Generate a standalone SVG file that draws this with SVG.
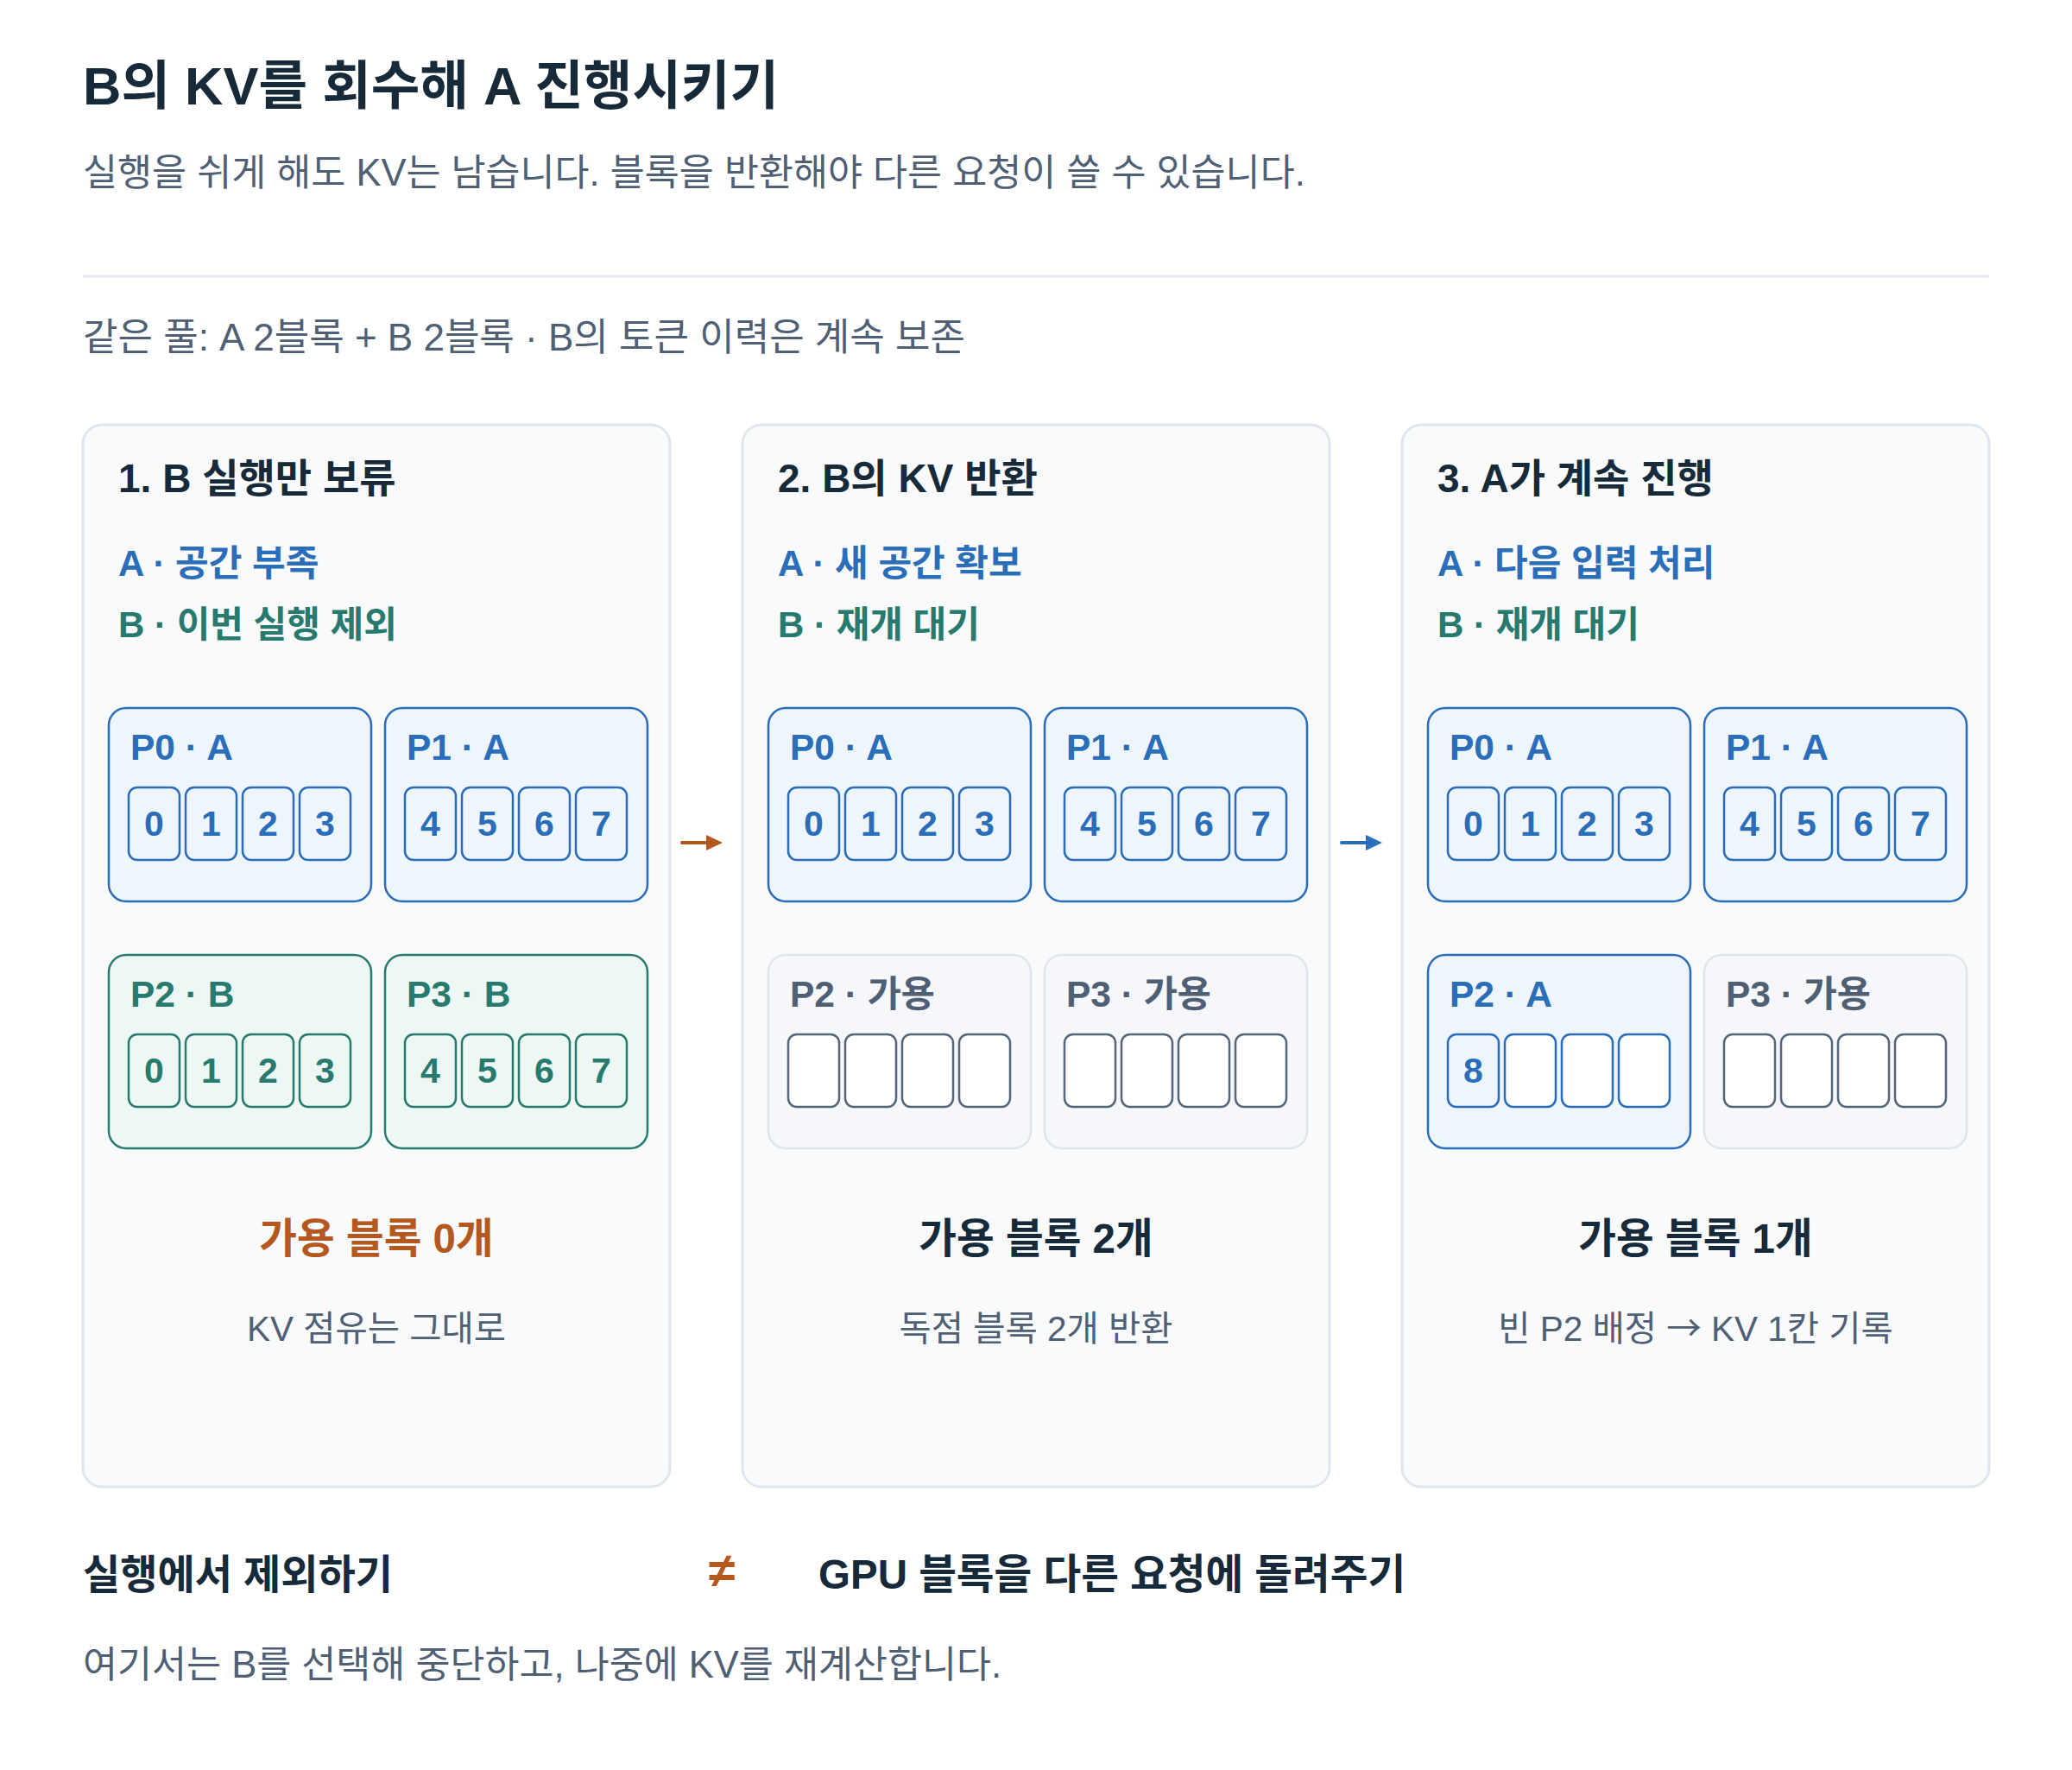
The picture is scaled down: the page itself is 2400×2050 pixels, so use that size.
<svg xmlns="http://www.w3.org/2000/svg" width="2400" height="2050" viewBox="0 0 2400 2050">
<defs>
<style>
text{font-family:"Liberation Sans","Noto Sans CJK KR",sans-serif}
.b{font-weight:700}
.navy{fill:#172a3a}
.gray{fill:#4f6075}
.blue{fill:#2a6db8}
.teal{fill:#277a6d}
.orange{fill:#b5581e}
.panel{fill:#f8fafc;stroke:#dfe6ee;stroke-width:3}
.blkA{fill:#eef5fd;stroke:#2a6db8;stroke-width:2.5}
.blkB{fill:#edf7f4;stroke:#277a6d;stroke-width:2.5}
.blkF{fill:#f5f7fa;stroke:#dfe5ec;stroke-width:2.5}
.cA{fill:#eef5fd;stroke:#2a6db8;stroke-width:2.5}
.cAe{fill:#ffffff;stroke:#2a6db8;stroke-width:2.5}
.cB{fill:#edf7f4;stroke:#277a6d;stroke-width:2.5}
.cF{fill:#ffffff;stroke:#55667a;stroke-width:2.5}
.pt{font-size:46px;font-weight:700;fill:#172a3a}
.st{font-size:42px;font-weight:700}
.bl{font-size:42.5px;font-weight:700}
.dg{font-size:41px;font-weight:700;text-anchor:middle}
.s1{font-size:47.5px;font-weight:700;text-anchor:middle}
.s2{font-size:40.5px;text-anchor:middle;fill:#4f6075}
.ar{font-family:"Noto Sans CJK KR",sans-serif}
</style>
<marker id="hO" markerUnits="userSpaceOnUse" markerWidth="20" markerHeight="18" refX="0" refY="9" orient="auto"><path d="M0,0 L19,9 L0,18 Z" fill="#b5581e"/></marker>
<marker id="hB" markerUnits="userSpaceOnUse" markerWidth="20" markerHeight="18" refX="0" refY="9" orient="auto"><path d="M0,0 L19,9 L0,18 Z" fill="#2a6db8"/></marker>
</defs>
<rect width="2400" height="2050" fill="#ffffff"/>

<g id="header">
<text x="96" y="121" class="b navy" font-size="61.5">B의 KV를 회수해 A 진행시키기</text>
<text x="96" y="215" class="gray" font-size="43.5">실행을 쉬게 해도 KV는 남습니다. 블록을 반환해야 다른 요청이 쓸 수 있습니다.</text>
<line x1="96" y1="320" x2="2304" y2="320" stroke="#e2e8f0" stroke-width="3"/>
<text x="96" y="406" class="gray" font-size="44">같은 풀: A 2블록 + B 2블록 · B의 토큰 이력은 계속 보존</text>
</g>

<g id="panel1">
<rect x="96" y="492" width="680" height="1230" rx="22" class="panel"/>
<text x="137" y="570" class="pt">1. B 실행만 보류</text>
<text x="137" y="667" class="st blue">A · 공간 부족</text>
<text x="137" y="738" class="st teal">B · 이번 실행 제외</text>
<g id="p1-P0">
<rect x="126" y="820" width="304" height="224" rx="20" class="blkA"/>
<text x="151" y="880" class="bl blue">P0 · A</text>
<rect x="149" y="912" width="59" height="84" rx="10" class="cA"/>
<rect x="215" y="912" width="59" height="84" rx="10" class="cA"/>
<rect x="281" y="912" width="59" height="84" rx="10" class="cA"/>
<rect x="347" y="912" width="59" height="84" rx="10" class="cA"/>
<text x="178.5" y="968" class="dg blue">0</text>
<text x="244.5" y="968" class="dg blue">1</text>
<text x="310.5" y="968" class="dg blue">2</text>
<text x="376.5" y="968" class="dg blue">3</text>
</g>
<g id="p1-P1">
<rect x="446" y="820" width="304" height="224" rx="20" class="blkA"/>
<text x="471" y="880" class="bl blue">P1 · A</text>
<rect x="469" y="912" width="59" height="84" rx="10" class="cA"/>
<rect x="535" y="912" width="59" height="84" rx="10" class="cA"/>
<rect x="601" y="912" width="59" height="84" rx="10" class="cA"/>
<rect x="667" y="912" width="59" height="84" rx="10" class="cA"/>
<text x="498.5" y="968" class="dg blue">4</text>
<text x="564.5" y="968" class="dg blue">5</text>
<text x="630.5" y="968" class="dg blue">6</text>
<text x="696.5" y="968" class="dg blue">7</text>
</g>
<g id="p1-P2">
<rect x="126" y="1106" width="304" height="224" rx="20" class="blkB"/>
<text x="151" y="1166" class="bl teal">P2 · B</text>
<rect x="149" y="1198" width="59" height="84" rx="10" class="cB"/>
<rect x="215" y="1198" width="59" height="84" rx="10" class="cB"/>
<rect x="281" y="1198" width="59" height="84" rx="10" class="cB"/>
<rect x="347" y="1198" width="59" height="84" rx="10" class="cB"/>
<text x="178.5" y="1254" class="dg teal">0</text>
<text x="244.5" y="1254" class="dg teal">1</text>
<text x="310.5" y="1254" class="dg teal">2</text>
<text x="376.5" y="1254" class="dg teal">3</text>
</g>
<g id="p1-P3">
<rect x="446" y="1106" width="304" height="224" rx="20" class="blkB"/>
<text x="471" y="1166" class="bl teal">P3 · B</text>
<rect x="469" y="1198" width="59" height="84" rx="10" class="cB"/>
<rect x="535" y="1198" width="59" height="84" rx="10" class="cB"/>
<rect x="601" y="1198" width="59" height="84" rx="10" class="cB"/>
<rect x="667" y="1198" width="59" height="84" rx="10" class="cB"/>
<text x="498.5" y="1254" class="dg teal">4</text>
<text x="564.5" y="1254" class="dg teal">5</text>
<text x="630.5" y="1254" class="dg teal">6</text>
<text x="696.5" y="1254" class="dg teal">7</text>
</g>
<text x="436" y="1451" class="s1 orange">가용 블록 0개</text>
<text x="436" y="1553" class="s2">KV 점유는 그대로</text>
</g>

<g id="panel2">
<rect x="860" y="492" width="680" height="1230" rx="22" class="panel"/>
<text x="901" y="570" class="pt">2. B의 KV 반환</text>
<text x="901" y="667" class="st blue">A · 새 공간 확보</text>
<text x="901" y="738" class="st teal">B · 재개 대기</text>
<g id="p2-P0">
<rect x="890" y="820" width="304" height="224" rx="20" class="blkA"/>
<text x="915" y="880" class="bl blue">P0 · A</text>
<rect x="913" y="912" width="59" height="84" rx="10" class="cA"/>
<rect x="979" y="912" width="59" height="84" rx="10" class="cA"/>
<rect x="1045" y="912" width="59" height="84" rx="10" class="cA"/>
<rect x="1111" y="912" width="59" height="84" rx="10" class="cA"/>
<text x="942.5" y="968" class="dg blue">0</text>
<text x="1008.5" y="968" class="dg blue">1</text>
<text x="1074.5" y="968" class="dg blue">2</text>
<text x="1140.5" y="968" class="dg blue">3</text>
</g>
<g id="p2-P1">
<rect x="1210" y="820" width="304" height="224" rx="20" class="blkA"/>
<text x="1235" y="880" class="bl blue">P1 · A</text>
<rect x="1233" y="912" width="59" height="84" rx="10" class="cA"/>
<rect x="1299" y="912" width="59" height="84" rx="10" class="cA"/>
<rect x="1365" y="912" width="59" height="84" rx="10" class="cA"/>
<rect x="1431" y="912" width="59" height="84" rx="10" class="cA"/>
<text x="1262.5" y="968" class="dg blue">4</text>
<text x="1328.5" y="968" class="dg blue">5</text>
<text x="1394.5" y="968" class="dg blue">6</text>
<text x="1460.5" y="968" class="dg blue">7</text>
</g>
<g id="p2-P2">
<rect x="890" y="1106" width="304" height="224" rx="20" class="blkF"/>
<text x="915" y="1166" class="bl gray">P2 · 가용</text>
<rect x="913" y="1198" width="59" height="84" rx="10" class="cF"/>
<rect x="979" y="1198" width="59" height="84" rx="10" class="cF"/>
<rect x="1045" y="1198" width="59" height="84" rx="10" class="cF"/>
<rect x="1111" y="1198" width="59" height="84" rx="10" class="cF"/>
</g>
<g id="p2-P3">
<rect x="1210" y="1106" width="304" height="224" rx="20" class="blkF"/>
<text x="1235" y="1166" class="bl gray">P3 · 가용</text>
<rect x="1233" y="1198" width="59" height="84" rx="10" class="cF"/>
<rect x="1299" y="1198" width="59" height="84" rx="10" class="cF"/>
<rect x="1365" y="1198" width="59" height="84" rx="10" class="cF"/>
<rect x="1431" y="1198" width="59" height="84" rx="10" class="cF"/>
</g>
<text x="1200" y="1451" class="s1 navy">가용 블록 2개</text>
<text x="1200" y="1553" class="s2">독점 블록 2개 반환</text>
</g>

<g id="panel3">
<rect x="1624" y="492" width="680" height="1230" rx="22" class="panel"/>
<text x="1665" y="570" class="pt">3. A가 계속 진행</text>
<text x="1665" y="667" class="st blue">A · 다음 입력 처리</text>
<text x="1665" y="738" class="st teal">B · 재개 대기</text>
<g id="p3-P0">
<rect x="1654" y="820" width="304" height="224" rx="20" class="blkA"/>
<text x="1679" y="880" class="bl blue">P0 · A</text>
<rect x="1677" y="912" width="59" height="84" rx="10" class="cA"/>
<rect x="1743" y="912" width="59" height="84" rx="10" class="cA"/>
<rect x="1809" y="912" width="59" height="84" rx="10" class="cA"/>
<rect x="1875" y="912" width="59" height="84" rx="10" class="cA"/>
<text x="1706.5" y="968" class="dg blue">0</text>
<text x="1772.5" y="968" class="dg blue">1</text>
<text x="1838.5" y="968" class="dg blue">2</text>
<text x="1904.5" y="968" class="dg blue">3</text>
</g>
<g id="p3-P1">
<rect x="1974" y="820" width="304" height="224" rx="20" class="blkA"/>
<text x="1999" y="880" class="bl blue">P1 · A</text>
<rect x="1997" y="912" width="59" height="84" rx="10" class="cA"/>
<rect x="2063" y="912" width="59" height="84" rx="10" class="cA"/>
<rect x="2129" y="912" width="59" height="84" rx="10" class="cA"/>
<rect x="2195" y="912" width="59" height="84" rx="10" class="cA"/>
<text x="2026.5" y="968" class="dg blue">4</text>
<text x="2092.5" y="968" class="dg blue">5</text>
<text x="2158.5" y="968" class="dg blue">6</text>
<text x="2224.5" y="968" class="dg blue">7</text>
</g>
<g id="p3-P2">
<rect x="1654" y="1106" width="304" height="224" rx="20" class="blkA"/>
<text x="1679" y="1166" class="bl blue">P2 · A</text>
<rect x="1677" y="1198" width="59" height="84" rx="10" class="cA"/>
<rect x="1743" y="1198" width="59" height="84" rx="10" class="cAe"/>
<rect x="1809" y="1198" width="59" height="84" rx="10" class="cAe"/>
<rect x="1875" y="1198" width="59" height="84" rx="10" class="cAe"/>
<text x="1706.5" y="1254" class="dg blue">8</text>
</g>
<g id="p3-P3">
<rect x="1974" y="1106" width="304" height="224" rx="20" class="blkF"/>
<text x="1999" y="1166" class="bl gray">P3 · 가용</text>
<rect x="1997" y="1198" width="59" height="84" rx="10" class="cF"/>
<rect x="2063" y="1198" width="59" height="84" rx="10" class="cF"/>
<rect x="2129" y="1198" width="59" height="84" rx="10" class="cF"/>
<rect x="2195" y="1198" width="59" height="84" rx="10" class="cF"/>
</g>
<text x="1964" y="1451" class="s1 navy">가용 블록 1개</text>
<text x="1964" y="1553" class="s2">빈 P2 배정 <tspan class="ar">→</tspan> KV 1칸 기록</text>
</g>

<g id="connectors">
<line x1="790" y1="976" x2="818" y2="976" stroke="#b5581e" stroke-width="4" stroke-linecap="round" marker-end="url(#hO)"/>
<line x1="1554" y1="976" x2="1582" y2="976" stroke="#2a6db8" stroke-width="4" stroke-linecap="round" marker-end="url(#hB)"/>
</g>

<g id="footer">
<text x="96" y="1840" class="b navy" font-size="47">실행에서 제외하기</text>
<text x="836" y="1838" class="b orange" font-size="56" text-anchor="middle">≠</text>
<text x="948" y="1840" class="b navy" font-size="47.5">GPU 블록을 다른 요청에 돌려주기</text>
<text x="96" y="1943" class="gray" font-size="43.5">여기서는 B를 선택해 중단하고, 나중에 KV를 재계산합니다.</text>
</g>
</svg>
